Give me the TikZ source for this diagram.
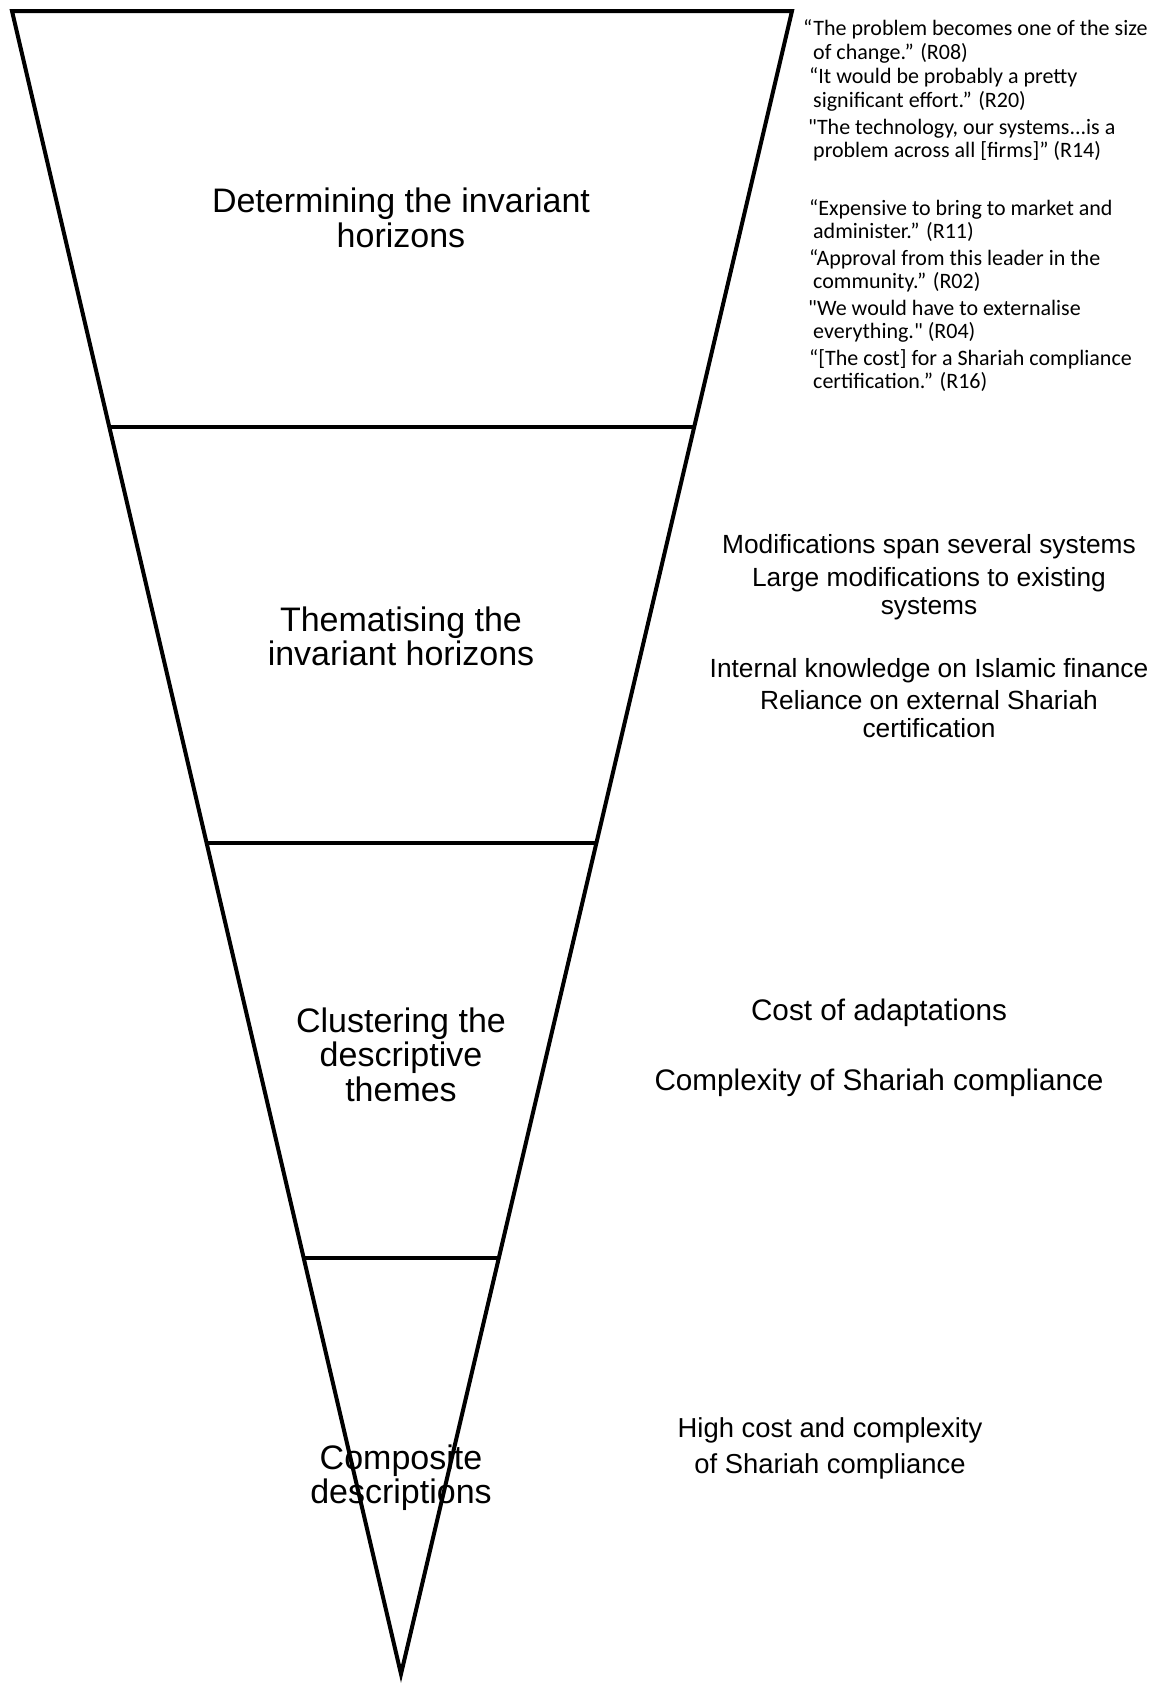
\documentclass[tikz,border=0pt]{standalone}
\usepackage{fontspec}
\setmainfont{Liberation Sans}
\newfontfamily\quotefont{Carlito}
\usetikzlibrary{calc}

\tikzset{
  funnel/.style={line width=4pt, line join=miter},
  stage/.style={font=\fontsize{34}{34.5}\selectfont, align=center, anchor=base, inner sep=0pt},
  theme/.style={font=\fontsize{26.3}{28}\selectfont, align=center, anchor=base, inner sep=0pt},
  quotetext/.style={font=\quotefont\fontsize{22}{23.5}\selectfont, align=left, anchor=base west, inner sep=0pt}
}

\begin{document}
\begin{tikzpicture}[x=1pt,y=-1pt]
\useasboundingbox (0,0) rectangle (1160,1684);

% funnel outline
\coordinate (tl) at (12,11);
\coordinate (tr) at (792,11);
\coordinate (tip) at (401,1674);
\draw[funnel] (tl) -- (tr) -- (tip) -- cycle;

% dividing lines
\foreach \t in {0.25,0.5,0.75}
  \draw[funnel] ($(tl)!\t!(tip)$) -- ($(tr)!\t!(tip)$);

% stages (placed at the baseline of the last line)
\node[stage] (determining) at (401,247) {Determining the invariant\\horizons};
\node[stage] (thematising) at (401,665.5) {Thematising the\\invariant horizons};
\node[stage] (clustering) at (401,1101) {Clustering the\\descriptive\\themes};
\node[stage] (composite) at (401,1503.5) {Composite\\descriptions};

% quotes
\node[quotetext] (r08) at (803,59) {“The problem becomes one of the size\\\hspace*{10pt}of change.” (R08)};
\node[quotetext] (r20) at (809,107) {“It would be probably a pretty\\\hspace*{4pt}significant effort.” (R20)};
\node[quotetext] (r14) at (808,157.5) {"The technology, our systems...is a\\\hspace*{5pt}problem across all [firms]” (R14)};
\node[quotetext] (r11) at (809,238.5) {“Expensive to bring to market and\\\hspace*{4pt}administer.” (R11)};
\node[quotetext] (r02) at (809,288.5) {“Approval from this leader in the\\\hspace*{4pt}community.” (R02)};
\node[quotetext] (r04) at (808,338.5) {"We would have to externalise\\\hspace*{5pt}everything." (R04)};
\node[quotetext] (r16) at (809,388.5) {“[The cost] for a Shariah compliance\\\hspace*{4pt}certification.” (R16)};

% themes
\node[theme] (span) at (929,553) {Modifications span several systems};
\node[theme] (large) at (929,614) {Large modifications to existing\\systems};
\node[theme] (internal) at (929,677) {Internal knowledge on Islamic finance};
\node[theme] (reliance) at (929,737) {Reliance on external Shariah\\certification};

\node[theme, font=\fontsize{29.7}{32}\selectfont] (cost) at (879,1020) {Cost of adaptations};
\node[theme, font=\fontsize{29.7}{32}\selectfont] (complexity) at (879,1090) {Complexity of Shariah compliance};

\node[theme, font=\fontsize{27.4}{35.5}\selectfont] (highcost) at (830,1473) {High cost and complexity\\of Shariah compliance};

\end{tikzpicture}
\end{document}
